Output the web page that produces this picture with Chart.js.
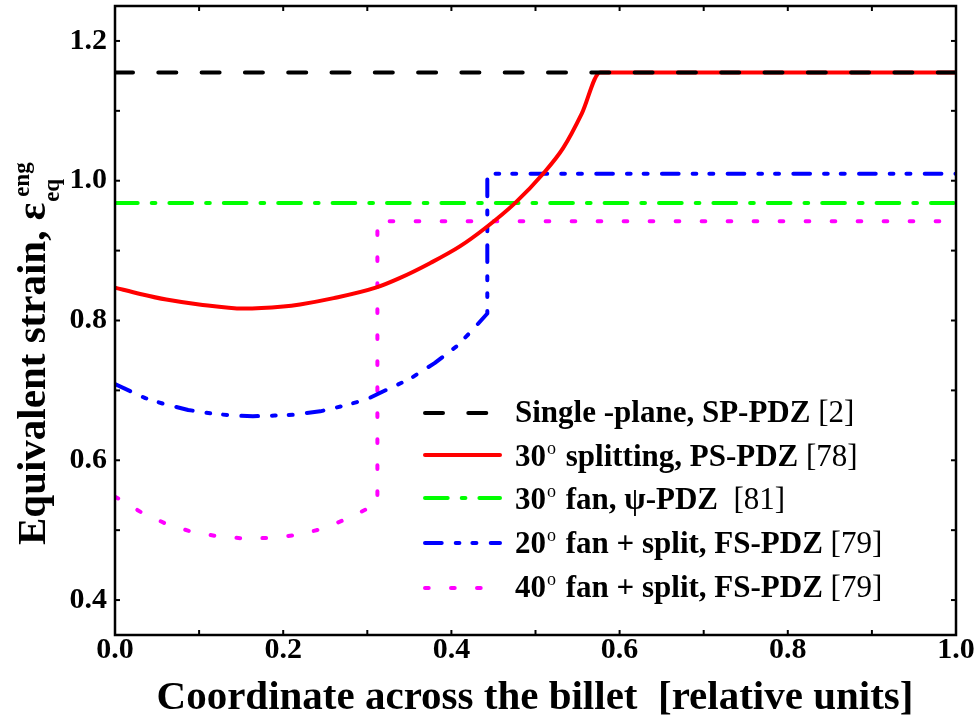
<!DOCTYPE html>
<html><head><meta charset="utf-8">
<script src="https://cdn.jsdelivr.net/npm/chart.js@4.4.1/dist/chart.umd.min.js"></script>
<style>html,body{margin:0;padding:0;background:#fff}#wrap{width:980px;height:723px;position:relative}</style>
</head><body><div id="wrap"><canvas id="c" width="980" height="723"></canvas></div>
<script>
// ---- data ----
const xTickValues = [0.0, 0.2, 0.4, 0.6, 0.8, 1.0];
const yTickValues = [0.4, 0.6, 0.8, 1.0, 1.2];
const xMinorValues = [0.1, 0.3, 0.5, 0.7, 0.9];
const yMinorValues = [0.5, 0.7, 0.9, 1.1];
const seriesLabels = [
  "Single -plane, SP-PDZ [2]",
  "30^o splitting, PS-PDZ [78]",
  "30^o fan, \u03C8-PDZ  [81]",
  "20^o fan + split, FS-PDZ [79]",
  "40^o fan + split, FS-PDZ [79]"
];
const xTitle = "Coordinate across the billet  [relative units]";
const yTitleMain = "Equivalent strain, \u03B5";
const yTitleSub = "eq";
const yTitleSup = "eng";

const spX = [0.0, 1.0];
const spY = [1.155, 1.155];

const psX = [0.0, 0.03, 0.061, 0.1, 0.153, 0.2, 0.22, 0.26, 0.31, 0.339, 0.3745, 0.41, 0.44, 0.4756, 0.509, 0.533, 0.555, 0.577, 1.0];
const psY = [0.847, 0.838, 0.830, 0.823, 0.817, 0.820, 0.823, 0.832, 0.847, 0.861, 0.882, 0.906, 0.932, 0.968, 1.010, 1.047, 1.096, 1.155, 1.155];

const psiX = [0.0, 1.0];
const psiY = [0.968, 0.968];

const fs20X = [0.0, 0.036, 0.057, 0.087, 0.114, 0.14, 0.164, 0.19, 0.212, 0.244, 0.272, 0.299, 0.323, 0.35, 0.38, 0.406, 0.424, 0.4427, 0.4427, 1.0];
const fs20Y = [0.709, 0.689, 0.681, 0.672, 0.667, 0.664, 0.663, 0.664, 0.665, 0.670, 0.678, 0.687, 0.701, 0.716, 0.739, 0.763, 0.785, 0.810, 1.010, 1.010];

const fs40X = [0.0, 0.032, 0.061, 0.093, 0.124, 0.155, 0.185, 0.216, 0.247, 0.277, 0.309, 0.312, 0.312, 1.0];
const fs40Y = [0.548, 0.525, 0.509, 0.497, 0.491, 0.488, 0.489, 0.493, 0.502, 0.517, 0.536, 0.538, 0.942, 0.942];

// ---- styles ----
const colors = ['#000000', '#ff0000', '#00ff00', '#0000ff', '#ff00ff'];
const dashes = [[18, 25.3], [], [22.7, 14, 3.7, 14], [16.7, 14, 3.7, 13, 4, 14.3], [3.7, 22.3]];
const SERIF = "'Liberation Serif', 'Times New Roman', serif";

const pts = (xs, ys) => xs.map((x, i) => ({x: x, y: ys[i]}));
const seriesData = [pts(spX, spY), pts(psX, psY), pts(psiX, psiY), pts(fs20X, fs20Y), pts(fs40X, fs40Y)];

const datasets = seriesData.map((d, i) => ({
  label: seriesLabels[i],
  data: d,
  borderColor: colors[i],
  backgroundColor: colors[i],
  borderWidth: 4,
  borderDash: dashes[i],
  borderCapStyle: 'round',
  borderJoinStyle: 'round',
  pointRadius: 0,
  fill: false,
  tension: 0,
  cubicInterpolationMode: i === 1 ? 'monotone' : 'default'
}));

function parseRich(s) {
  const segs = [];
  const re = /\^(\S)|(\[[^\]]*\])/g;
  let last = 0, m;
  while ((m = re.exec(s)) !== null) {
    if (m.index > last) segs.push({t: s.slice(last, m.index), k: 'b'});
    if (m[1]) segs.push({t: m[1], k: 'sup'});
    else segs.push({t: m[2], k: 'r'});
    last = re.lastIndex;
  }
  if (last < s.length) segs.push({t: s.slice(last), k: 'b'});
  return segs;
}

const decorPlugin = {
  id: 'decor',
  afterDatasetsDraw(chart) {
    const ctx = chart.ctx, a = chart.chartArea;
    const xs = chart.scales.x, ys = chart.scales.y;
    ctx.save();
    ctx.setLineDash([]);
    ctx.strokeStyle = '#000';
    ctx.lineWidth = 2;
    const tl = 5;
    xTickValues.concat(xMinorValues).forEach(v => {
      const px = xs.getPixelForValue(v);
      ctx.beginPath(); ctx.moveTo(px, a.bottom); ctx.lineTo(px, a.bottom - tl); ctx.stroke();
      ctx.beginPath(); ctx.moveTo(px, a.top); ctx.lineTo(px, a.top + tl); ctx.stroke();
    });
    yTickValues.concat(yMinorValues).forEach(v => {
      const py = ys.getPixelForValue(v);
      ctx.beginPath(); ctx.moveTo(a.left, py); ctx.lineTo(a.left + tl, py); ctx.stroke();
      ctx.beginPath(); ctx.moveTo(a.right, py); ctx.lineTo(a.right - tl, py); ctx.stroke();
    });
    ctx.lineWidth = 2.5;
    ctx.strokeRect(a.left, a.top, a.right - a.left, a.bottom - a.top);
    ctx.restore();
  },
  afterDraw(chart) {
    const ctx = chart.ctx;
    ctx.save();
    const lineY = [413, 455, 498, 543, 588];
    const baseY = [422, 466, 509, 553, 597];
    seriesLabels.forEach((lab, i) => {
      ctx.strokeStyle = colors[i];
      ctx.lineWidth = 4;
      ctx.lineCap = 'round';
      ctx.setLineDash(dashes[i]);
      ctx.beginPath(); ctx.moveTo(425, lineY[i]); ctx.lineTo(500, lineY[i]); ctx.stroke();
      ctx.setLineDash([]);
      let x = 515;
      ctx.fillStyle = '#000';
      ctx.textBaseline = 'alphabetic';
      ctx.textAlign = 'left';
      parseRich(lab).forEach(sg => {
        if (sg.k === 'sup') {
          ctx.font = '18px ' + SERIF;
          ctx.fillText(sg.t, x + 1, baseY[i] - 12);
          x += ctx.measureText(sg.t).width + 3;
        } else {
          ctx.font = (sg.k === 'b' ? 'bold ' : '') + '31px ' + SERIF;
          ctx.fillText(sg.t, x, baseY[i]);
          x += ctx.measureText(sg.t).width;
        }
      });
    });
    ctx.font = 'bold 41px ' + SERIF;
    ctx.textAlign = 'center';
    ctx.fillText(xTitle, 535, 709);
    ctx.translate(45, 545);
    ctx.rotate(-Math.PI / 2);
    ctx.textAlign = 'left';
    ctx.font = 'bold 41px ' + SERIF;
    ctx.fillText(yTitleMain, 0, 0);
    const w = ctx.measureText(yTitleMain).width;
    ctx.font = 'bold 23px ' + SERIF;
    ctx.fillText(yTitleSub, w + 1, 14);
    ctx.fillText(yTitleSup, w + 6, -16);
    ctx.restore();
  }
};

new Chart(document.getElementById('c'), {
  type: 'line',
  data: {datasets: datasets},
  options: {
    responsive: false,
    animation: false,
    devicePixelRatio: 1,
    layout: {padding: {left: 0, top: 6, right: 24, bottom: 0}},
    plugins: {legend: {display: false}, tooltip: {enabled: false}},
    scales: {
      x: {
        type: 'linear', min: 0, max: 1,
        afterBuildTicks: s => { s.ticks = xTickValues.map(v => ({value: v})); },
        afterFit: s => { s.height = 88; s.paddingLeft = 0; s.paddingRight = 0; },
        grid: {display: false, drawTicks: false},
        border: {display: false},
        ticks: {
          color: '#000', padding: -3, maxRotation: 0, autoSkip: false,
          font: {family: SERIF, size: 30, weight: 'bold'},
          callback: v => Number(v).toFixed(1)
        }
      },
      y: {
        type: 'linear', min: 0.35, max: 1.25,
        afterBuildTicks: s => { s.ticks = yTickValues.map(v => ({value: v})); },
        afterFit: s => { s.width = 115; s.paddingTop = 0; s.paddingBottom = 0; },
        grid: {display: false, drawTicks: false},
        border: {display: false},
        ticks: {
          color: '#000', padding: 8, autoSkip: false,
          font: {family: SERIF, size: 30, weight: 'bold'},
          callback: v => Number(v).toFixed(1)
        }
      }
    }
  },
  plugins: [decorPlugin]
});
</script></body></html>
